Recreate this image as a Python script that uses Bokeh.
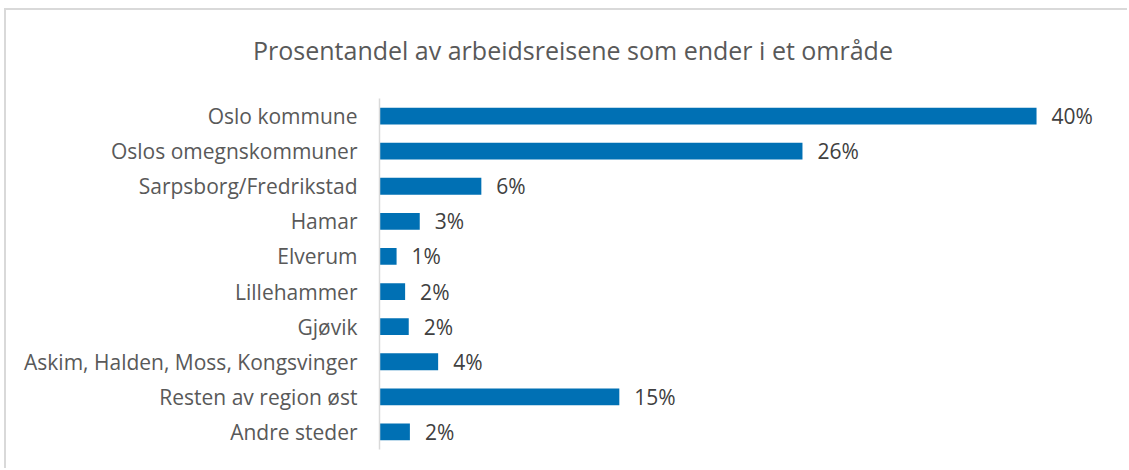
from bokeh.plotting import figure
from bokeh.models import ColumnDataSource, Range1d, FactorRange, Div
from bokeh.layouts import column
from bokeh.core.properties import value
from bokeh.embed import file_html
from bokeh.resources import INLINE

title_text = "Prosentandel av arbeidsreisene som ender i et område"
categories = ["Oslo kommune", "Oslos omegnskommuner", "Sarpsborg/Fredrikstad", "Hamar",
              "Elverum", "Lillehammer", "Gjøvik", "Askim, Halden, Moss, Kongsvinger",
              "Resten av region øst", "Andre steder"]
values = [40.0, 25.75, 6.2, 2.45, 1.04, 1.56, 1.78, 3.57, 14.6, 1.85]
labels = ["40%", "26%", "6%", "3%", "1%", "2%", "2%", "4%", "15%", "2%"]

FONT = "Open Sans"

src = ColumnDataSource(dict(cat=categories, val=values, lab=labels))

title_div = Div(
    text=('<div style="font-family:\'Open Sans\';font-size:25px;line-height:30px;'
          'color:#595959;padding-top:25px;padding-left:247px;'
          'white-space:nowrap;">' + title_text + '</div>'),
    width=1121, height=80, margin=0)

p = figure(width=1121, height=378, output_backend="svg", toolbar_location=None,
           y_range=FactorRange(factors=list(reversed(categories)), range_padding=0),
           x_range=Range1d(0, 44.32), margin=0,
           min_border_left=373, min_border_right=20, min_border_top=8, min_border_bottom=19)

p.hbar(y="cat", right="val", left=0, height=0.48, source=src,
       fill_color="#0070B4", line_color=None)
p.text(x="val", y="cat", text="lab", source=src, x_offset=15,
       text_baseline="middle", text_align="left",
       text_font=value(FONT), text_font_size="21px", text_color="#404040")

p.xaxis.visible = False
p.xgrid.visible = False
p.ygrid.visible = False
p.outline_line_color = None
p.background_fill_color = "white"
p.border_fill_color = "white"

ax = p.yaxis[0]
ax.axis_line_color = "#d9d9d9"
ax.axis_line_width = 1.5
ax.major_tick_line_color = None
ax.minor_tick_line_color = None
ax.major_label_standoff = 16
ax.major_label_text_font = FONT
ax.major_label_text_font_size = "21px"
ax.major_label_text_color = "#595959"

layout = column(title_div, p, spacing=0)
layout.styles = {"margin-top": "8px", "margin-left": "4px", "background-color": "white",
                 "border-top": "2px solid #d9d9d9", "border-left": "2px solid #d9d9d9"}

open("out.html", "w").write(file_html(layout, INLINE))
